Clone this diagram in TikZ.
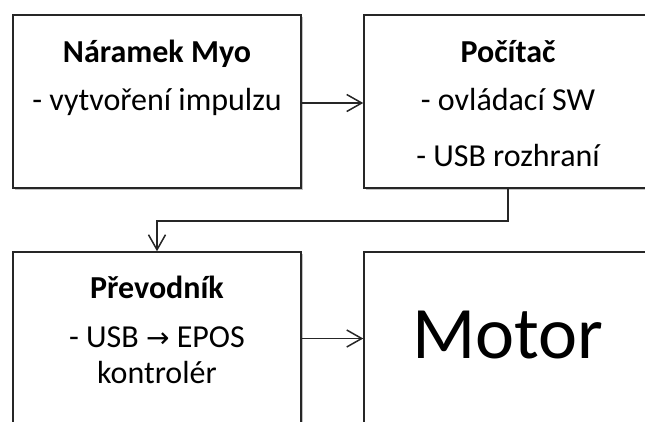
\documentclass[tikz,border=0pt]{standalone}
\usepackage{fontspec}
\setmainfont{Carlito}
\newfontfamily\symf{DejaVu Sans}
\usetikzlibrary{arrows.meta,shadows}
\tikzset{
  blk/.style={draw=black!85, line width=1.5pt, fill=white, minimum width=288pt, minimum height=173pt,
    inner sep=0pt, drop shadow={shadow xshift=1.5pt, shadow yshift=-1.5pt, fill=black!40, opacity=0.6}},
  ttl/.style={anchor=base, font=\fontsize{32}{38}\selectfont\bfseries},
  txt/.style={anchor=base, font=\fontsize{32}{38}\selectfont},
  big/.style={anchor=base, font=\fontsize{74}{84}\selectfont},
  conn/.style={draw=black!85, line width=1.5pt, -{Straight Barb[length=15pt,width=17pt,line width=1.5pt]}}
}
\begin{document}
\begin{tikzpicture}[x=1pt,y=-1pt]
\useasboundingbox (0,0) rectangle (645,421);
\clip (0,0) rectangle (645,421);
\node[blk] (b1) at (157,101.5) {};
\node[blk] (b2) at (508,101.5) {};
\node[blk] (b3) at (157,338.5) {};
\node[blk] (b4) at (508,338.5) {};
\node[ttl] (t1) at (157,62) {Náramek Myo};
\node[txt] (t1a) at (157,110) {- vytvoření impulzu};
\node[ttl] (t2) at (508,62) {Počítač};
\node[txt] (t2a) at (508,110) {- ovládací SW};
\node[txt] (t2b) at (508,166) {- USB rozhraní};
\node[ttl] (t3) at (157,298) {Převodník};
\node[txt] (t3a) at (157,347) {- USB {\symf\fontsize{28}{34}\selectfont →} EPOS};
\node[txt] (t3b) at (157,383) {kontrolér};
\node[big] (t4) at (508,358) {Motor};
\coordinate (k) at (157,221);
\draw[conn] (b1.east |- 0,103) -- (b2.west |- 0,103);
\draw[conn] (b2.south) |- (k) -- (b3.north);
\draw[conn] (b3.east) -- (b4.west);
\end{tikzpicture}
\end{document}
